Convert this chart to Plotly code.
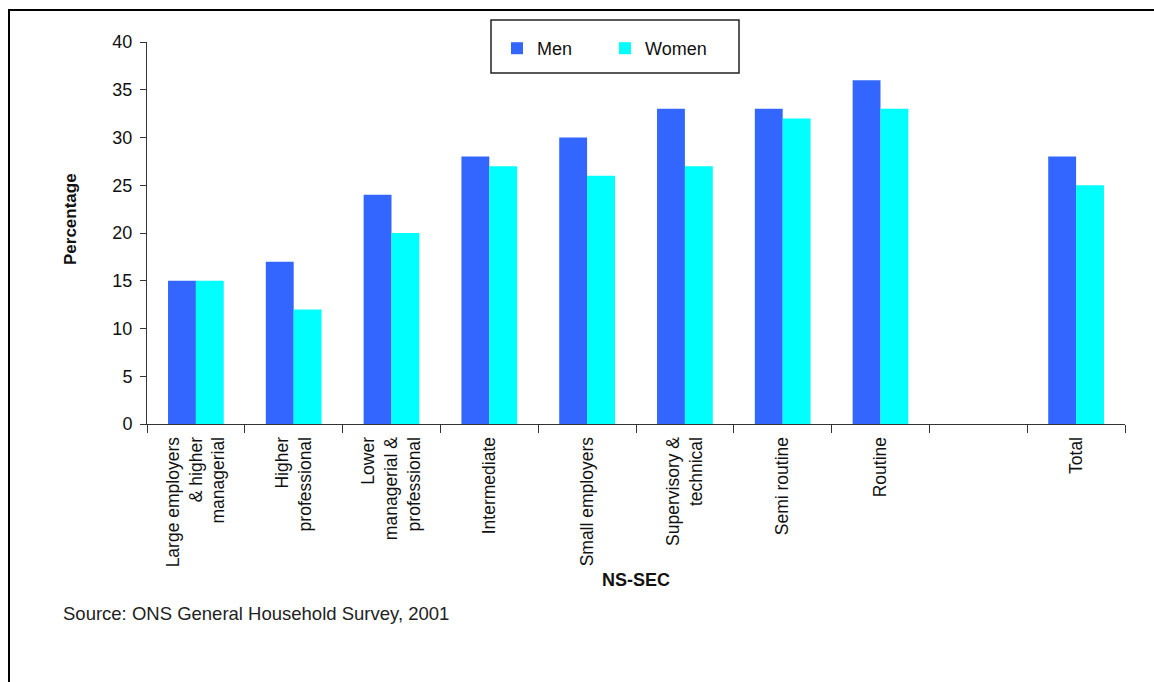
import plotly.graph_objects as go

categories = [
    "Large employers<br>& higher<br>managerial",
    "Higher<br>professional",
    "Lower<br>managerial &<br>professional",
    "Intermediate",
    "Small employers",
    "Supervisory &<br>technical",
    "Semi routine",
    "Routine",
    " ",
    "Total",
]
men = [15, 17, 24, 28, 30, 33, 33, 36, None, 28]
women = [15, 12, 20, 27, 26, 27, 32, 33, None, 25]
y_ticks = [0, 5, 10, 15, 20, 25, 30, 35, 40]

FONT = "Liberation Sans, Arial, sans-serif"
W, H = 1154, 682
L, R, T, B = 147, 29, 42, 258
pw, ph = W - L - R, H - T - B


def px_x(x):
    return (x - L) / pw


def px_y(y):
    return (H - B - y) / ph


fig = go.Figure()
fig.add_trace(go.Bar(name="Men", x=categories, y=men, marker=dict(color="#3366FF", line=dict(width=0))))
fig.add_trace(go.Bar(name="Women", x=categories, y=women, marker=dict(color="#00FFFF", line=dict(width=0))))

fig.update_layout(
    width=W, height=H,
    margin=dict(l=L, r=R, t=T, b=B, autoexpand=False),
    paper_bgcolor="white", plot_bgcolor="white",
    font=dict(family=FONT, size=17, color="#111111"),
    barmode="group", bargap=0.43, bargroupgap=0,
    showlegend=True,
    legend=dict(
        orientation="h", x=px_x(497), y=px_y(30), xanchor="left", yanchor="top",
        bgcolor="rgba(0,0,0,0)", borderwidth=0,
        font=dict(family=FONT, size=18, color="#111111"),
        entrywidth=63, itemwidth=30,
    ),
    xaxis=dict(
        type="category", categoryorder="array", categoryarray=categories,
        showline=True, linecolor="#333333", linewidth=1,
        ticks="outside", tickson="boundaries", ticklen=8, tickcolor="#333333",
        tickangle=-90, tickfont=dict(family=FONT, size=17.5, color="#111111"),
        ticklabelstandoff=5,
        showgrid=False, zeroline=False,
        title=dict(text="<b>NS-SEC</b>", font=dict(family=FONT, size=18, color="#111111"), standoff=7),
    ),
    yaxis=dict(
        range=[0, 40], tickvals=y_ticks, ticktext=[str(v) for v in y_ticks],
        showline=True, linecolor="#333333", linewidth=1,
        ticks="outside", ticklen=6, tickcolor="#333333",
        tickfont=dict(family=FONT, size=18, color="#111111"),
        ticklabelstandoff=4,
        showgrid=False, zeroline=False,
    ),
    shapes=[
        # outer frame (top and left edges visible)
        dict(type="line", xref="paper", yref="paper", x0=px_x(8), x1=px_x(1160), y0=px_y(10), y1=px_y(10),
             line=dict(color="black", width=2)),
        dict(type="line", xref="paper", yref="paper", x0=px_x(9), x1=px_x(9), y0=px_y(10), y1=px_y(690),
             line=dict(color="black", width=2)),
        # legend box
        dict(type="rect", xref="paper", yref="paper", x0=px_x(491), x1=px_x(739), y0=px_y(20), y1=px_y(73),
             line=dict(color="#222222", width=1.5), fillcolor="rgba(0,0,0,0)"),
    ],
    annotations=[
        dict(text="<b>Percentage</b>", xref="paper", yref="paper", textangle=-90,
             x=px_x(70), y=px_y(219), xanchor="center", yanchor="middle", showarrow=False,
             font=dict(family=FONT, size=17, color="#111111")),
        dict(text="Source: ONS General Household Survey, 2001", xref="paper", yref="paper",
             x=px_x(61), y=px_y(613), xanchor="left", yanchor="middle", showarrow=False,
             font=dict(family=FONT, size=18.5, color="#222222")),
    ],
)

fig.write_html("out.html")
